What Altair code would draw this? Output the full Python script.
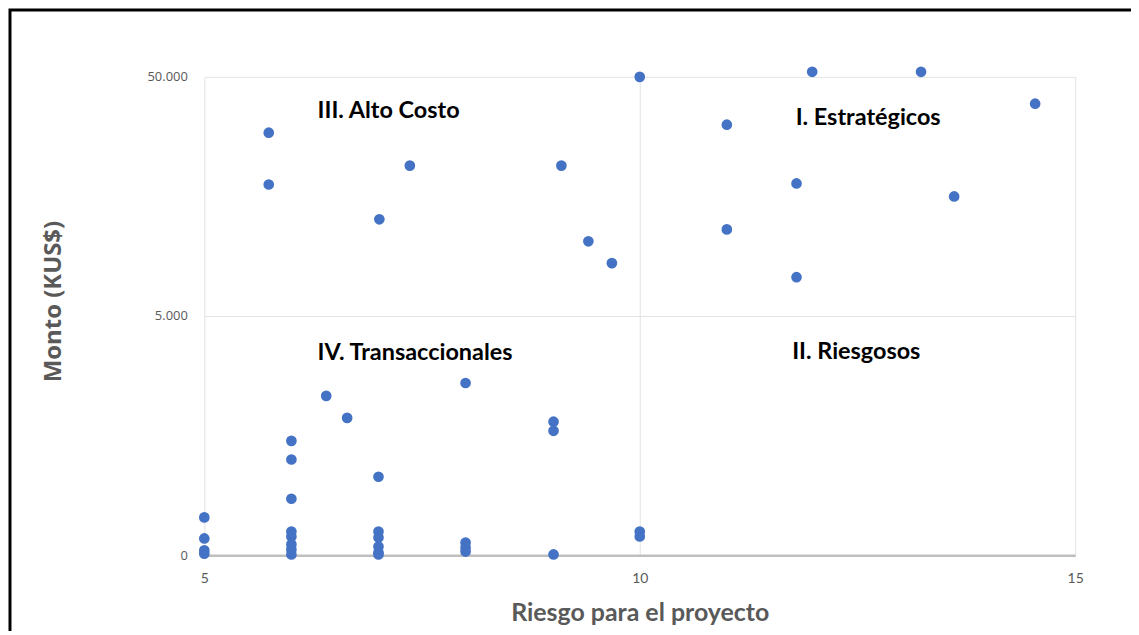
import altair as alt
import pandas as pd

# Riesgo (x) and Monto KUS$ (y) for every project
riesgo = [
    5.74, 5.74, 7.01, 7.36, 9.10, 9.41, 9.68, 10.0, 11.0, 11.0, 11.8, 11.8, 11.98, 13.23, 13.61, 14.54,
    5, 5, 5, 5,
    6, 6, 6, 6, 6, 6, 6, 6,
    6.4, 6.64,
    7, 7, 7, 7, 7, 7,
    8, 8, 8, 8,
    9.01, 9.01, 9.01,
    10, 10,
]
monto = [
    39500, 29750, 23200, 33300, 33300, 19050, 14950, 50000, 41000, 21300, 29950, 12300, 50950, 50950, 27500, 44950,
    790, 350, 100, 30,
    2390, 2000, 1180, 495, 390, 225, 120, 15,
    3330, 2870,
    1640, 495, 370, 180, 55, 15,
    3600, 265, 160, 75,
    2790, 2600, 15,
    495, 390,
]

# quadrant labels
label_text = ["III. Alto Costo", "I. Estratégicos", "IV. Transaccionales", "II. Riesgosos"]
label_x = [6.30, 11.79, 6.30, 11.75]
label_y = [43600, 42300, 4230, 4250]

x_ticks = [5, 10, 15]
y_ticks = [0, 5000, 50000]

W, H = 874, 480

df = pd.DataFrame({"riesgo": riesgo, "monto": monto})
labels = pd.DataFrame({"riesgo": label_x, "monto": label_y, "txt": label_text})

x_enc = alt.X(
    "riesgo:Q",
    scale=alt.Scale(domain=[5, 15], nice=False, zero=False),
    axis=alt.Axis(
        values=x_ticks,
        format="d",
        labelFlush=False,
        title="Riesgo para el proyecto",
        titleFont="Lato", titleFontSize=25, titleFontWeight="bold", titleColor="#595959",
        titleX=W / 2, titleY=58, titleBaseline="middle", titleAlign="center",
        labelFont="Lato", labelFontSize=14, labelColor="#595959", labelPadding=16,
        ticks=False, domainColor="#bfbfbf", domainWidth=2.5,
        grid=True, gridColor="#e3e3e3", gridWidth=1,
    ),
)
y_enc = alt.Y(
    "monto:Q",
    scale=alt.Scale(domain=[0, 5000, 50000], range=[H, H / 2, 0], nice=False, zero=False),
    axis=alt.Axis(
        values=y_ticks,
        format=",d",
        labelExpr="replace(datum.label, ',', '.')",
        labelFlush=False,
        title="Monto (KUS$)",
        titleFont="Open Sans", titleFontSize=24, titleFontWeight="bold", titleColor="#595959",
        titleX=-151, titleY=225, titleAlign="center", titleBaseline="middle", titleAngle=270,
        labelFont="Open Sans", labelFontSize=13, labelColor="#595959", labelPadding=17,
        ticks=False, domain=False,
        grid=True, gridColor="#e3e3e3", gridWidth=1,
    ),
)

points = alt.Chart(df).mark_circle(size=115, color="#4472C4", opacity=1).encode(x=x_enc, y=y_enc)

texts = alt.Chart(labels).mark_text(
    align="left", baseline="middle", font="Lato", fontSize=23.5, fontWeight="bold", color="#000000"
).encode(x="riesgo:Q", y="monto:Q", text="txt:N")

frame = alt.Chart(alt.Data(values=[{"a": 1}])).mark_rect(
    fillOpacity=0, stroke="black", strokeWidth=3
).encode(
    x=alt.value(-195), x2=alt.value(W + 300), y=alt.value(-67), y2=alt.value(H + 300)
)

chart = alt.layer(points, texts, frame).properties(
    width=W, height=H,
    autosize=alt.AutoSizeParams(type="none"),
    padding={"left": 197, "top": 68, "right": 56, "bottom": 75},
    background="white",
).configure_view(stroke=None)

chart.save("out.html", embed_options={"renderer": "svg", "actions": False})
